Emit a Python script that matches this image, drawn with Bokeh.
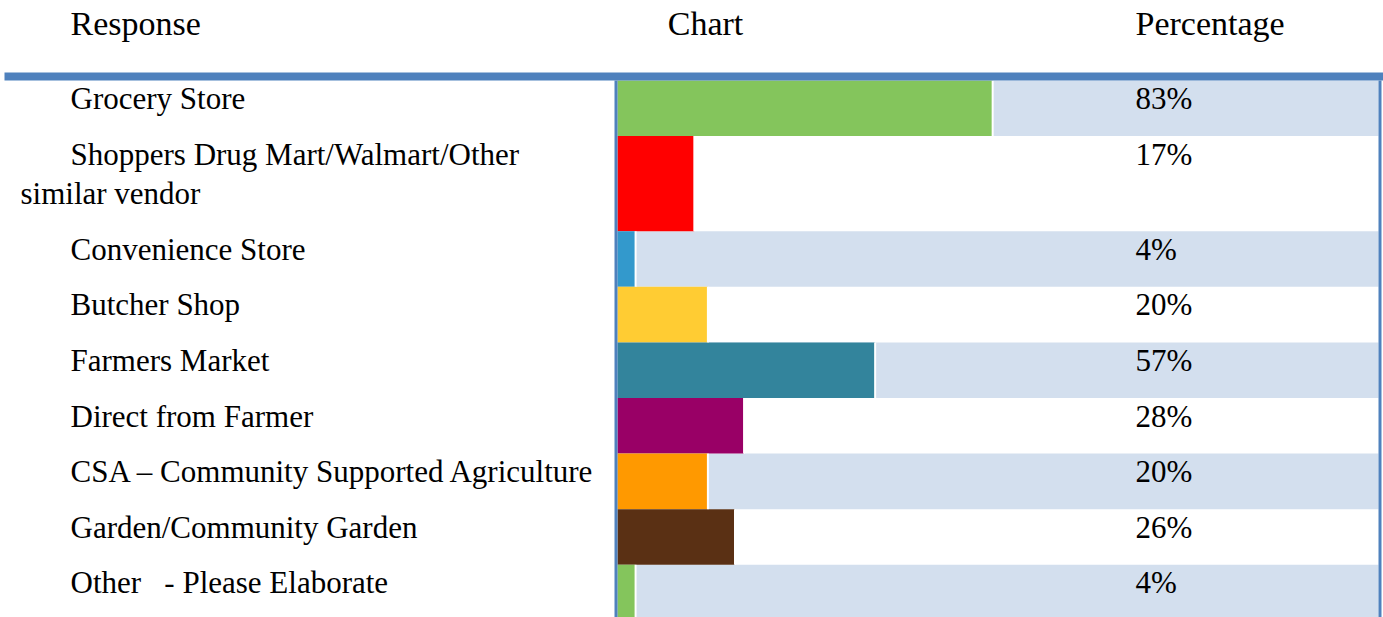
from bokeh.plotting import figure
from bokeh.models import Range1d, ColumnDataSource
from bokeh.core.properties import value
from bokeh.embed import file_html
from bokeh.resources import INLINE

# --- survey data ---------------------------------------------------------
responses = [
    "Grocery Store",
    "Shoppers Drug Mart/Walmart/Other\nsimilar vendor",
    "Convenience Store",
    "Butcher Shop",
    "Farmers Market",
    "Direct from Farmer",
    "CSA \u2013 Community Supported Agriculture",
    "Garden/Community Garden",
    "Other\u00a0\u00a0 - Please Elaborate",
]
percentages = [83, 17, 4, 20, 57, 28, 20, 26, 4]
bar_colors = ["#84C55C", "#FF0000", "#3399CC", "#FFCC33", "#33849C",
              "#990066", "#FF9900", "#5A3014", "#84C55C"]
headers = ["Response", "Chart", "Percentage"]

# --- layout ---------------------------------------------------------------
W, H = 1383, 617
FONT = value("Liberation Serif")
FS = "31px"
HEAD_FS = "34px"
RULE = "#4F81BD"
BAND = "#D3DFEE"

chart_left = 617          # pixel where the 0% baseline sits
px_per_pct = 4.52         # pixel width of one percent
pct_col = 1135            # left edge of the percentage column
right_edge = 1378
table_top = 80
line_h = 39.5
row_h1 = 55.6
text_drop = 18            # baseline offset below a row's top edge

def to_x(px):
    return (px - chart_left) / px_per_pct

p = figure(width=W, height=H, output_backend="svg", toolbar_location=None,
           x_range=Range1d(to_x(0), to_x(W)), y_range=Range1d(H, 0),
           min_border=0)
p.axis.visible = False
p.grid.visible = False
p.outline_line_color = None
p.background_fill_color = "white"

# row geometry from the number of text lines in each response
tops, bottoms = [], []
y = table_top
for r in responses:
    n = r.count("\n") + 1
    h = row_h1 + line_h * (n - 1)
    tops.append(y)
    bottoms.append(y + h)
    y += h

# alternating row bands across the chart + percentage columns
band_idx = [i for i in range(len(responses)) if i % 2 == 0]
p.quad(left=[0] * len(band_idx), right=[to_x(right_edge)] * len(band_idx),
       top=[tops[i] for i in band_idx], bottom=[bottoms[i] for i in band_idx],
       fill_color=BAND, line_color=None)

# bars
src = ColumnDataSource(dict(left=[0] * len(percentages), right=percentages,
                            top=tops, bottom=bottoms, color=bar_colors))
p.quad(left="left", right="right", top="top", bottom="bottom",
       fill_color="color", line_color=None, source=src)
# thin white edge at each bar end
p.segment(x0=percentages, x1=percentages, y0=tops, y1=bottoms,
          line_color="white", line_width=2)

# table rules
p.quad(left=[to_x(4)], right=[to_x(W)], top=[72], bottom=[80],
       fill_color=RULE, line_color=None)
p.quad(left=[to_x(614), to_x(right_edge)], right=[to_x(617), to_x(1381)],
       top=[80, 80], bottom=[H, H], fill_color=RULE, line_color=None)

# headers
p.text(x=[to_x(70), to_x(705), to_x(pct_col)], y=[23, 23, 23], text=headers,
       text_align=["left", "center", "left"], text_baseline="alphabetic",
       text_font=FONT, text_font_size=HEAD_FS, text_color="black")

# response labels (first line indented, continuation lines hang left)
lx, ly, lt = [], [], []
for r, t in zip(responses, tops):
    for k, line in enumerate(r.split("\n")):
        lx.append(to_x(70 if k == 0 else 20))
        ly.append(t + text_drop + k * line_h)
        lt.append(line)
p.text(x=lx, y=ly, text=lt, text_align="left", text_baseline="alphabetic",
       text_font=FONT, text_font_size=FS, text_color="black")

# percentage labels
p.text(x=[to_x(pct_col)] * len(percentages), y=[t + text_drop for t in tops],
       text=[f"{v}%" for v in percentages], text_align="left",
       text_baseline="alphabetic", text_font=FONT, text_font_size=FS,
       text_color="black")

open("out.html", "w").write(file_html(p, INLINE))
